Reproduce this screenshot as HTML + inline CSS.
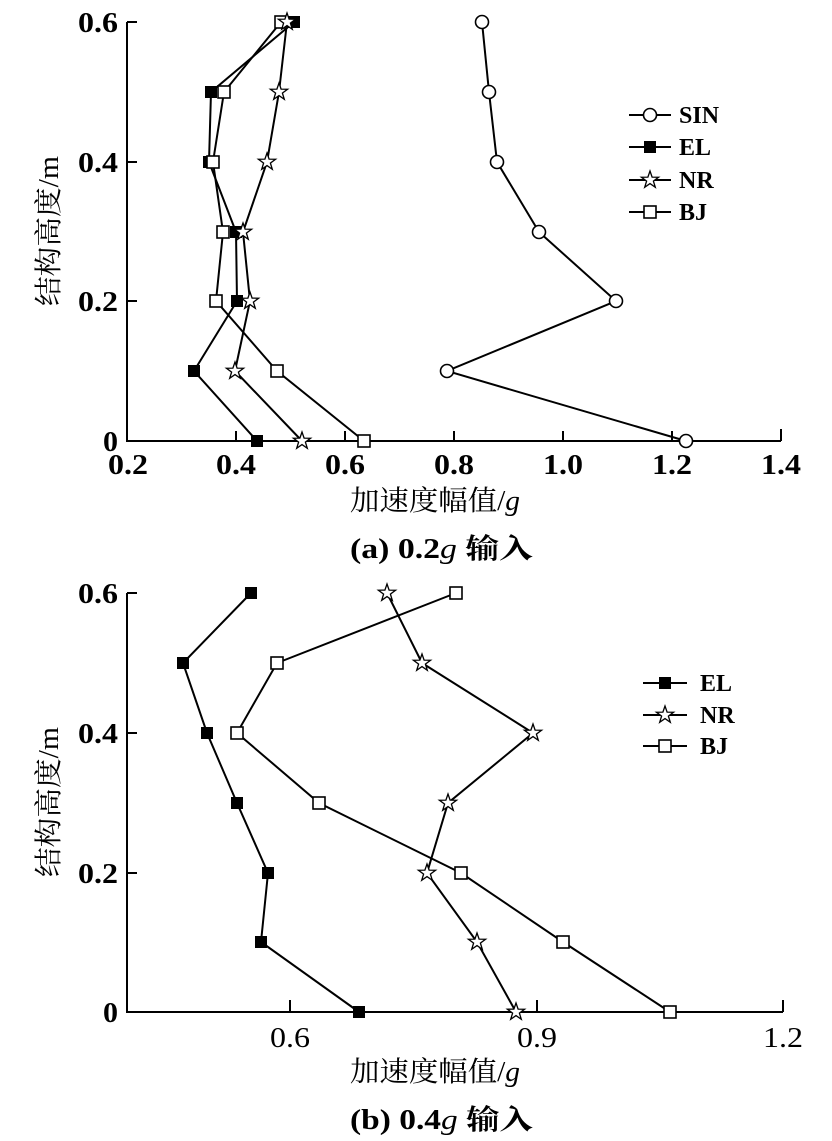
<!DOCTYPE html>
<html><head><meta charset="utf-8"><style>
html,body{margin:0;padding:0;background:#fff;}
svg{display:block;}
text{fill:#000;}
.tk{font-family:"Liberation Serif",serif;font-weight:bold;font-size:29px;}
.tkn{font-family:"Liberation Serif",serif;font-size:29px;}
.cj{font-family:"Liberation Serif","Noto Serif CJK SC",serif;font-size:28px;}
.lg{font-family:"Liberation Serif",serif;font-weight:bold;font-size:24px;}
</style></head><body>
<svg width="832" height="1141" viewBox="0 0 832 1141" xmlns="http://www.w3.org/2000/svg">
<g stroke="#000" stroke-width="2" fill="none">
<path d="M127 22 V441 H781"/>
<path d="M127 22 h10 M127 162 h10 M127 301 h10"/>
<path d="M236 441 v-10 M345 441 v-10 M454 441 v-10 M563 441 v-10 M672 441 v-10 M781 441 v-12"/>
<path d="M127 593 V1012 H783"/>
<path d="M127 593 h10 M127 733 h10 M127 873 h10"/>
<path d="M290 1012 v-12 M537 1012 v-12 M783 1012 v-12"/>
<polyline points="482,22 489,92 497,162 539,232 616,301 447,371 686,441"/>
<polyline points="294,22 211,92 209,162 236,232 237,301 194,371 257,441"/>
<polyline points="287,22 279,92 267,162 243,232 250,301 235,371 302,441"/>
<polyline points="281,22 224,92 213,162 223,232 216,301 277,371 364,441"/>
<polyline points="251,593 183,663 207,733 237,803 268,873 261,942 359,1012"/>
<polyline points="387,593 422,663 533,733 448,803 427,873 477,942 516,1012"/>
<polyline points="456,593 277,663 237,733 319,803 461,873 563,942 670,1012"/>
<path d="M629 115 H671 M629 147 H671 M629 180 H671 M629 212 H671"/>
<path d="M643 683 H687 M643 715 H687 M643 746 H687"/>
</g>
<g stroke="#000" stroke-width="1.6" fill="#fff">
<circle cx="482" cy="22" r="6.5"/><circle cx="489" cy="92" r="6.5"/><circle cx="497" cy="162" r="6.5"/><circle cx="539" cy="232" r="6.5"/><circle cx="616" cy="301" r="6.5"/><circle cx="447" cy="371" r="6.5"/><circle cx="686" cy="441" r="6.5"/>
<circle cx="650" cy="115" r="6.5"/>
</g>
<g fill="#000">
<rect x="288" y="16" width="12" height="12"/><rect x="205" y="86" width="12" height="12"/><rect x="203" y="156" width="12" height="12"/><rect x="230" y="226" width="12" height="12"/><rect x="231" y="295" width="12" height="12"/><rect x="188" y="365" width="12" height="12"/><rect x="251" y="435" width="12" height="12"/>
<rect x="644" y="141" width="12" height="12"/>
<rect x="245" y="587" width="12" height="12"/><rect x="177" y="657" width="12" height="12"/><rect x="201" y="727" width="12" height="12"/><rect x="231" y="797" width="12" height="12"/><rect x="262" y="867" width="12" height="12"/><rect x="255" y="936" width="12" height="12"/><rect x="353" y="1006" width="12" height="12"/>
<rect x="659" y="677" width="12" height="12"/>
</g>
<g stroke="#000" stroke-width="1.6" fill="#fff">
<rect x="275" y="16" width="12" height="12"/><rect x="218" y="86" width="12" height="12"/><rect x="207" y="156" width="12" height="12"/><rect x="217" y="226" width="12" height="12"/><rect x="210" y="295" width="12" height="12"/><rect x="271" y="365" width="12" height="12"/><rect x="358" y="435" width="12" height="12"/>
<rect x="644" y="206" width="12" height="12"/>
<rect x="450" y="587" width="12" height="12"/><rect x="271" y="657" width="12" height="12"/><rect x="231" y="727" width="12" height="12"/><rect x="313" y="797" width="12" height="12"/><rect x="455" y="867" width="12" height="12"/><rect x="557" y="936" width="12" height="12"/><rect x="664" y="1006" width="12" height="12"/>
<rect x="659" y="740" width="12" height="12"/>
</g>
<g stroke="#000" stroke-width="1.3" fill="#fff">
<path transform="translate(287,22)" d="M0,-9 L2.1,-2.9 8.6,-2.8 3.4,1.1 5.3,7.3 0,3.6 -5.3,7.3 -3.4,1.1 -8.6,-2.8 -2.1,-2.9Z"/>
<path transform="translate(279,92)" d="M0,-9 L2.1,-2.9 8.6,-2.8 3.4,1.1 5.3,7.3 0,3.6 -5.3,7.3 -3.4,1.1 -8.6,-2.8 -2.1,-2.9Z"/>
<path transform="translate(267,162)" d="M0,-9 L2.1,-2.9 8.6,-2.8 3.4,1.1 5.3,7.3 0,3.6 -5.3,7.3 -3.4,1.1 -8.6,-2.8 -2.1,-2.9Z"/>
<path transform="translate(243,232)" d="M0,-9 L2.1,-2.9 8.6,-2.8 3.4,1.1 5.3,7.3 0,3.6 -5.3,7.3 -3.4,1.1 -8.6,-2.8 -2.1,-2.9Z"/>
<path transform="translate(250,301)" d="M0,-9 L2.1,-2.9 8.6,-2.8 3.4,1.1 5.3,7.3 0,3.6 -5.3,7.3 -3.4,1.1 -8.6,-2.8 -2.1,-2.9Z"/>
<path transform="translate(235,371)" d="M0,-9 L2.1,-2.9 8.6,-2.8 3.4,1.1 5.3,7.3 0,3.6 -5.3,7.3 -3.4,1.1 -8.6,-2.8 -2.1,-2.9Z"/>
<path transform="translate(302,441)" d="M0,-9 L2.1,-2.9 8.6,-2.8 3.4,1.1 5.3,7.3 0,3.6 -5.3,7.3 -3.4,1.1 -8.6,-2.8 -2.1,-2.9Z"/>
<path transform="translate(650,180)" d="M0,-9 L2.1,-2.9 8.6,-2.8 3.4,1.1 5.3,7.3 0,3.6 -5.3,7.3 -3.4,1.1 -8.6,-2.8 -2.1,-2.9Z"/>
<path transform="translate(387,593)" d="M0,-9 L2.1,-2.9 8.6,-2.8 3.4,1.1 5.3,7.3 0,3.6 -5.3,7.3 -3.4,1.1 -8.6,-2.8 -2.1,-2.9Z"/>
<path transform="translate(422,663)" d="M0,-9 L2.1,-2.9 8.6,-2.8 3.4,1.1 5.3,7.3 0,3.6 -5.3,7.3 -3.4,1.1 -8.6,-2.8 -2.1,-2.9Z"/>
<path transform="translate(533,733)" d="M0,-9 L2.1,-2.9 8.6,-2.8 3.4,1.1 5.3,7.3 0,3.6 -5.3,7.3 -3.4,1.1 -8.6,-2.8 -2.1,-2.9Z"/>
<path transform="translate(448,803)" d="M0,-9 L2.1,-2.9 8.6,-2.8 3.4,1.1 5.3,7.3 0,3.6 -5.3,7.3 -3.4,1.1 -8.6,-2.8 -2.1,-2.9Z"/>
<path transform="translate(427,873)" d="M0,-9 L2.1,-2.9 8.6,-2.8 3.4,1.1 5.3,7.3 0,3.6 -5.3,7.3 -3.4,1.1 -8.6,-2.8 -2.1,-2.9Z"/>
<path transform="translate(477,942)" d="M0,-9 L2.1,-2.9 8.6,-2.8 3.4,1.1 5.3,7.3 0,3.6 -5.3,7.3 -3.4,1.1 -8.6,-2.8 -2.1,-2.9Z"/>
<path transform="translate(516,1012)" d="M0,-9 L2.1,-2.9 8.6,-2.8 3.4,1.1 5.3,7.3 0,3.6 -5.3,7.3 -3.4,1.1 -8.6,-2.8 -2.1,-2.9Z"/>
<path transform="translate(665,715)" d="M0,-9 L2.1,-2.9 8.6,-2.8 3.4,1.1 5.3,7.3 0,3.6 -5.3,7.3 -3.4,1.1 -8.6,-2.8 -2.1,-2.9Z"/>
</g>

<g class="tk" text-anchor="end">
<text x="118" y="32" textLength="40" lengthAdjust="spacingAndGlyphs">0.6</text>
<text x="118" y="172" textLength="40" lengthAdjust="spacingAndGlyphs">0.4</text>
<text x="118" y="311" textLength="40" lengthAdjust="spacingAndGlyphs">0.2</text>
<text x="118" y="451" textLength="15" lengthAdjust="spacingAndGlyphs">0</text>
</g>
<g class="tk">
<text x="108" y="474" textLength="40" lengthAdjust="spacingAndGlyphs">0.2</text>
<text x="216" y="474" textLength="40" lengthAdjust="spacingAndGlyphs">0.4</text>
<text x="325" y="474" textLength="40" lengthAdjust="spacingAndGlyphs">0.6</text>
<text x="434" y="474" textLength="40" lengthAdjust="spacingAndGlyphs">0.8</text>
<text x="543" y="474" textLength="40" lengthAdjust="spacingAndGlyphs">1.0</text>
<text x="652" y="474" textLength="40" lengthAdjust="spacingAndGlyphs">1.2</text>
<text x="761" y="474" textLength="40" lengthAdjust="spacingAndGlyphs">1.4</text>
</g>
<text class="cj" x="350" y="510" textLength="170" lengthAdjust="spacingAndGlyphs">加速度幅值/<tspan font-style="italic">g</tspan></text>
<text class="cj" x="350" y="558" textLength="183" lengthAdjust="spacingAndGlyphs" font-weight="bold">(a) 0.2<tspan font-style="italic" font-weight="normal">g</tspan> 输入</text>
<text class="cj" transform="translate(58,231) rotate(-90)" text-anchor="middle" textLength="150" lengthAdjust="spacingAndGlyphs">结构高度/m</text>
<g class="lg">
<text x="679" y="123">SIN</text><text x="679" y="155">EL</text><text x="679" y="188">NR</text><text x="679" y="220">BJ</text>
</g>

<g class="tk" text-anchor="end">
<text x="118" y="603" textLength="40" lengthAdjust="spacingAndGlyphs">0.6</text>
<text x="118" y="743" textLength="40" lengthAdjust="spacingAndGlyphs">0.4</text>
<text x="118" y="883" textLength="40" lengthAdjust="spacingAndGlyphs">0.2</text>
<text x="118" y="1022" textLength="15" lengthAdjust="spacingAndGlyphs">0</text>
</g>
<g class="tkn">
<text x="270" y="1047" textLength="40" lengthAdjust="spacingAndGlyphs">0.6</text>
<text x="517" y="1047" textLength="40" lengthAdjust="spacingAndGlyphs">0.9</text>
<text x="763" y="1047" textLength="40" lengthAdjust="spacingAndGlyphs">1.2</text>
</g>
<text class="cj" x="350" y="1081" textLength="170" lengthAdjust="spacingAndGlyphs">加速度幅值/<tspan font-style="italic">g</tspan></text>
<text class="cj" x="350" y="1129" textLength="183" lengthAdjust="spacingAndGlyphs" font-weight="bold">(b) 0.4<tspan font-style="italic" font-weight="normal">g</tspan> 输入</text>
<text class="cj" transform="translate(58,802) rotate(-90)" text-anchor="middle" textLength="150" lengthAdjust="spacingAndGlyphs">结构高度/m</text>
<g class="lg">
<text x="700" y="691">EL</text><text x="700" y="723">NR</text><text x="700" y="754">BJ</text>
</g>
</svg>
</body></html>
